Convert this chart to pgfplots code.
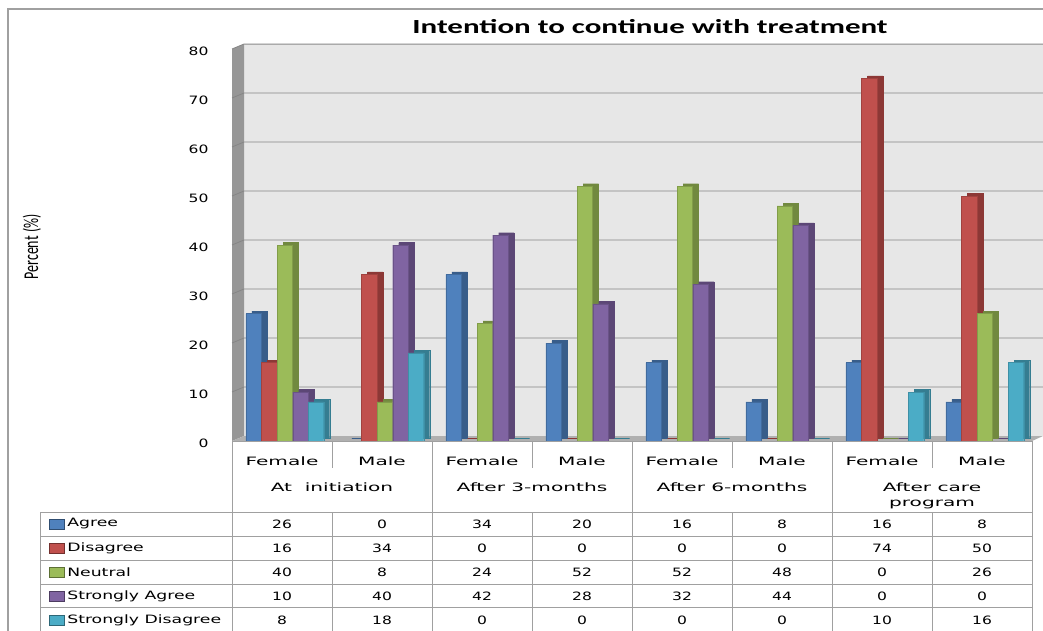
\documentclass[border=0pt]{standalone}
\usepackage{graphicx}
\usepackage{pgfplots}
\usepackage{pgfplotstable}
\pgfplotsset{compat=1.18}
\usepackage{fontspec}
\setmainfont{DejaVu Sans}
\newfontfamily\titlefont{Carlito}

\definecolor{agreeF}{HTML}{4F81BD}\definecolor{agreeS}{HTML}{385D8A}
\definecolor{disF}{HTML}{C0504D}\definecolor{disS}{HTML}{8C3836}
\definecolor{neuF}{HTML}{9BBB59}\definecolor{neuS}{HTML}{71893F}
\definecolor{saF}{HTML}{8064A2}\definecolor{saS}{HTML}{5C4776}
\definecolor{sdF}{HTML}{4BACC6}\definecolor{sdS}{HTML}{357D91}
\definecolor{wall}{HTML}{E7E7E7}
\definecolor{sidewall}{HTML}{979797}
\definecolor{floorc}{HTML}{B0B0B0}
\definecolor{gridc}{HTML}{868686}
\definecolor{rulec}{HTML}{A0A0A0}

% responses (percent) per group: F/M at initiation, 3 months, 6 months, after care
\pgfplotstableread{
x agree disagree neutral sagree sdisagree
0 26 16 40 10 8
1 0  34 8  40 18
2 34 0  24 42 0
3 20 0  52 28 0
4 16 0  52 32 0
5 8  0  48 44 0
6 16 74 0  0  10
7 8  50 26 0  16
}\datatable

% one 3-D looking bar series: shaded depth block behind, face in front
\newcommand{\barseries}[4]{%
  \addplot[ybar, bar width=15.4pt, bar shift=#4, fill=#3, draw=#3,
    line width=0.3pt, xshift=6pt, yshift=2.5pt] table[x=x, y=#1] {\datatable};
  \addplot[ybar, bar width=15.4pt, bar shift=#4, fill=#2, draw=#3!60!#2,
    line width=0.3pt] table[x=x, y=#1] {\datatable};
}

\newcommand{\tabtxt}{\fontsize{11.5}{13}\selectfont}
\newcommand{\wide}[1]{\scalebox{1.35}[1]{#1}}

\begin{document}
\begin{tikzpicture}
\useasboundingbox (0pt,0pt) rectangle (1043pt,630pt);
\begin{scope}[shift={(0pt,630pt)}, x=1pt, y=-1pt]
  \fill[white] (0,0) rectangle (1043,630);
  % frame
  \draw[rulec, line width=1.2pt] (8,640) -- (8,9) -- (1050,9);
  % back wall, side wall, floor
  \fill[wall] (244,44) rectangle (1050,436);
  \fill[sidewall] (232,49) -- (244,44) -- (244,436) -- (232,441) -- cycle;
  \foreach \k in {1,...,8} {
    \draw[gridc, line width=0.8pt] (232,{441-49*\k}) -- (244,{436-49*\k}) -- (1050,{436-49*\k});
  }
  \draw[gridc!70, line width=0.8pt] (244,44) -- (1050,44);
  \fill[floorc] (232,441) -- (244,436) -- (1043,436) -- (1032,441) -- cycle;
  % title and axis label
  \node[font=\titlefont\bfseries\fontsize{20}{22}\selectfont, xscale=1.55] at (650,27) {Intention to continue with treatment};
  \node[font=\titlefont\fontsize{14}{16}\selectfont, xscale=1.5, rotate=90] at (32,247) {Percent (\%)};
\end{scope}

\begin{axis}[
  at={(232pt,189pt)}, anchor=south west,
  scale only axis, width=800pt, height=392pt,
  xmin=-0.5, xmax=7.5, ymin=0, ymax=80,
  clip=false,
  axis line style={draw=none},
  xtick=\empty,
  ytick={0,10,20,30,40,50,60,70,80},
  yticklabels={\wide{0},\wide{10},\wide{20},\wide{30},\wide{40},\wide{50},\wide{60},\wide{70},\wide{80}},
  major tick length=0pt,
  tick style={draw=none},
  yticklabel style={font=\tabtxt, anchor=east, xshift=-20pt, yshift=-2.5pt},
]
  \barseries{agree}{agreeF}{agreeS}{-28.4pt}
  \barseries{disagree}{disF}{disS}{-12.8pt}
  \barseries{neutral}{neuF}{neuS}{2.8pt}
  \barseries{sagree}{saF}{saS}{18.4pt}
  \barseries{sdisagree}{sdF}{sdS}{34pt}
\end{axis}

\begin{scope}[shift={(0pt,630pt)}, x=1pt, y=-1pt]
  % data table under the plot
  \draw[rulec, line width=0.9pt] (232,441) -- (1032,441);
  \foreach \xx in {232,432,632,832,1032} \draw[rulec, line width=0.9pt] (\xx,441) -- (\xx,640);
  \foreach \xx in {332,532,732,932} {
    \draw[rulec, line width=0.9pt] (\xx,441) -- (\xx,468);
    \draw[rulec, line width=0.9pt] (\xx,512) -- (\xx,640);
  }
  \draw[rulec, line width=0.9pt] (40,512) -- (40,640);
  \foreach \yy in {512,536,560,584,607,631} \draw[rulec, line width=0.9pt] (40,\yy) -- (1032,\yy);
  \foreach \k in {0,1,2,3} {
    \node[font=\tabtxt, xscale=1.75] at ({282+200*\k},461) {Female};
    \node[font=\tabtxt, xscale=1.75] at ({382+200*\k},461) {Male};
  }
  \node[font=\tabtxt, xscale=1.75] at (332,487) {At\ \ initiation};
  \node[font=\tabtxt, xscale=1.75] at (532,487) {After 3-months};
  \node[font=\tabtxt, xscale=1.75] at (732,487) {After 6-months};
  \node[font=\tabtxt, xscale=1.75] at (932,487) {After care};
  \node[font=\tabtxt, xscale=1.75] at (932,504) {program};
  % legend keys
  \foreach \c/\t [count=\i from 0] in {agreeF/Agree, disF/Disagree, neuF/Neutral, saF/Strongly Agree, sdF/Strongly Disagree} {
    \filldraw[fill=\c, draw=\c!60!black, line width=0.5pt] (49,{519+24*\i}) rectangle (64,{529+24*\i});
    \node[font=\tabtxt, xscale=1.5, anchor=west, inner sep=0pt] at (67,{524+24*\i}) {\t};
  }
  % values
  \foreach \row [count=\r from 0] in {
      {26,0,34,20,16,8,16,8},
      {16,34,0,0,0,0,74,50},
      {40,8,24,52,52,48,0,26},
      {10,40,42,28,32,44,0,0},
      {8,18,0,0,0,0,10,16}} {
    \foreach \v [count=\c from 0] in \row {
      \node[font=\tabtxt, xscale=1.35] at ({282+100*\c},{524+24*\r}) {\v};
    }
  }
\end{scope}
\end{tikzpicture}
\end{document}
